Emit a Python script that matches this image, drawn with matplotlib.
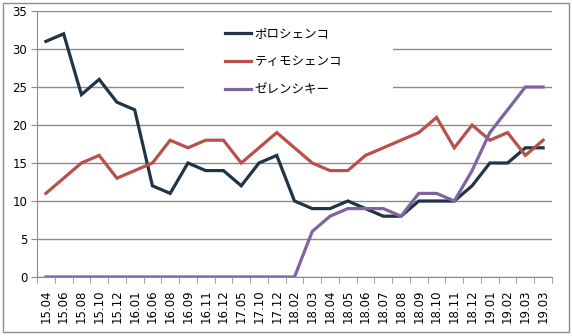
import matplotlib
matplotlib.use("Agg")
import matplotlib.pyplot as plt
from matplotlib.patches import Rectangle
import numpy as np

plt.rcParams['font.family'] = ['Noto Sans CJK JP', 'DejaVu Sans']

months = ['15.04', '15.06', '15.08', '15.10', '15.12', '16.01', '16.06', '16.08',
          '16.09', '16.11', '16.12', '17.05', '17.10', '17.12', '18.02', '18.03',
          '18.04', '18.05', '18.06', '18.07', '18.08', '18.09', '18.10', '18.11',
          '18.12', '19.01', '19.02', '19.03', '19.03']

poroshenko = [31, 32, 24, 26, 23, 22, 12, 11, 15, 14, 14, 12, 15, 16, 10,
              9, 9, 10, 9, 8, 8, 10, 10, 10, 12, 15, 15, 17, 17]
tymoshenko = [11, 13, 15, 16, 13, 14, 15, 18, 17, 18, 18, 15, 17, 19, 17,
              15, 14, 14, 16, 17, 18, 19, 21, 17, 20, 18, 19, 16, 18]
zelensky = [0, 0, 0, 0, 0, 0, 0, 0, 0, 0, 0, 0, 0, 0, 0,
            6, 8, 9, 9, 9, 8, 11, 11, 10, 14, 19, 22, 25, 25]

names = ['ポロシェンコ', 'ティモシェンコ', 'ゼレンシキー']
colors = ['#1f3447', '#b9504c', '#7f64a0']

W, H = 572, 336
fig = plt.figure(figsize=(W / 100, H / 100), dpi=100)
ax = fig.add_axes([37 / W, (H - 277) / H, (552 - 37) / W, (277 - 11) / H])

x = np.arange(len(months))
for vals, name, c in zip([poroshenko, tymoshenko, zelensky], names, colors):
    ax.plot(x, vals, color=c, lw=2.3, label=name, solid_joinstyle='miter', zorder=3)

ax.set_xlim(-0.5, len(months) - 0.5)
ax.set_ylim(0, 35)
ax.set_yticks(range(0, 36, 5))
ax.yaxis.grid(True, color='#8c8c8c', lw=1)
ax.set_axisbelow(True)

ax.set_xticks(x)
ax.set_xticklabels(months, rotation=90, fontsize=8.5, family='DejaVu Sans')
ax.set_xticks(np.arange(-0.5, len(months)), minor=True)
ax.tick_params(axis='x', which='major', length=0, pad=9)
ax.tick_params(axis='x', which='minor', length=4, color='#8c8c8c')
ax.tick_params(axis='y', length=4, color='#8c8c8c', labelsize=8.5, pad=3)
for lab in ax.get_yticklabels():
    lab.set_family('DejaVu Sans')

for side in ['top', 'right']:
    ax.spines[side].set_visible(False)
for side in ['left', 'bottom']:
    ax.spines[side].set_color('#8c8c8c')

# white block behind the legend hides the gridlines
ax.add_patch(Rectangle((184 / W, 1 - 100 / H), (393 - 184) / W, (100 - 15) / H,
                       transform=fig.transFigure, facecolor='white',
                       edgecolor='none', zorder=1, clip_on=False))
ax.legend(loc='upper left', bbox_to_anchor=(225 / W, 1 - 27 / H),
          bbox_transform=fig.transFigure, frameon=False, fontsize=9,
          handlelength=2.1, handletextpad=0.25, labelspacing=1.2,
          borderpad=0, borderaxespad=0)

# outer chart border
fig.add_artist(Rectangle((3 / W, 4 / H), 566 / W, 329 / H, transform=fig.transFigure,
                         facecolor='none', edgecolor='#8c8c8c', lw=1))

fig.savefig('out.png', dpi=100)
